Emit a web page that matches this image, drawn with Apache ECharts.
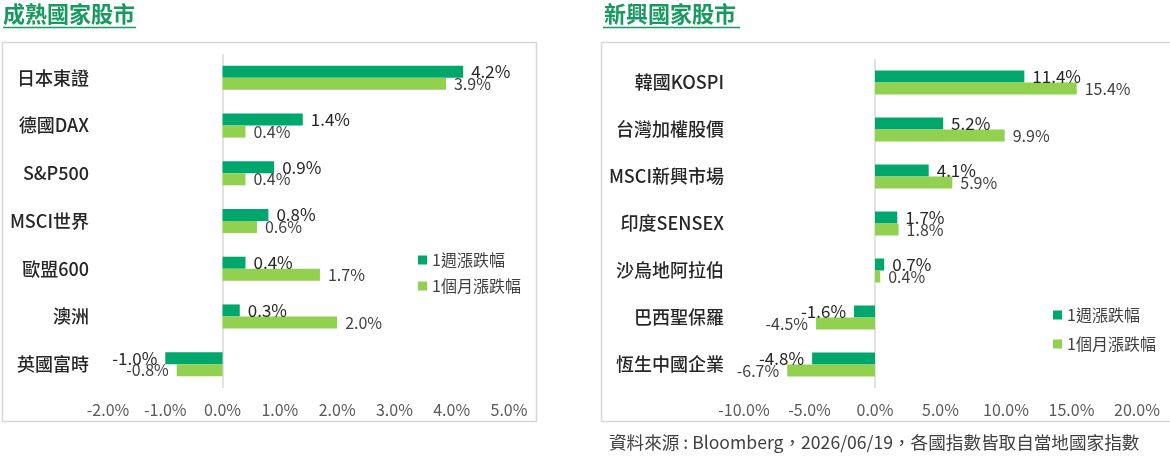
<!DOCTYPE html>
<html>
<head>
<meta charset="utf-8">
<script src="https://cdn.jsdelivr.net/npm/echarts@6/dist/echarts.min.js"></script>
<style>
html,body{margin:0;padding:0;background:#fff;}
#main{width:1170px;height:457px;}
</style>
</head>
<body>
<div id="main"></div>
<script>
// ---- data ----
const devCategories = ['日本東證','德國DAX','S&P500','MSCI世界','歐盟600','澳洲','英國富時'];
const devWeek  = [4.2, 1.4, 0.9, 0.8, 0.4, 0.3, -1.0];
const devMonth = [3.9, 0.4, 0.4, 0.6, 1.7, 2.0, -0.8];

const emCategories = ['韓國KOSPI','台灣加權股價','MSCI新興市場','印度SENSEX','沙烏地阿拉伯','巴西聖保羅','恆生中國企業'];
const emWeek  = [11.4, 5.2, 4.1, 1.7, 0.7, -1.6, -4.8];
const emMonth = [15.4, 9.9, 5.9, 1.8, 0.4, -4.5, -6.7];

const seriesNames = ['1週漲跌幅','1個月漲跌幅'];
const devTitle = '成熟國家股市';
const emTitle = '新興國家股市';
const sourceText = '資料來源 : Bloomberg，2026/06/19，各國指數皆取自當地國家指數';

// ---- styles ----
const FONT = '"Noto Sans CJK TC", "Noto Sans", sans-serif';
const DARK = '#00A76D';
const LIGHT = '#92D050';
const TITLE_GREEN = '#17995F';

function pct(v){ return v.toFixed(1) + '%'; }

function withLabels(values){
  return values.map(v => ({
    value: v,
    label: { position: v < 0 ? 'left' : 'right' }
  }));
}

function barSeries(name, values, color, idx, labelSize, labelColor, withZero){
  const s = {
    name: name,
    type: 'bar',
    xAxisIndex: idx,
    yAxisIndex: idx,
    barWidth: 12,
    barGap: '0%',
    itemStyle: { color: color },
    data: withLabels(values),
    label: {
      show: true,
      distance: 8,
      fontFamily: FONT,
      fontSize: labelSize,
      color: labelColor,
      formatter: p => pct(p.value)
    },
    z: 3
  };
  if (withZero) {
    s.markLine = {
      silent: true,
      symbol: ['none','none'],
      label: { show: false },
      lineStyle: { color: '#d9d9d9', type: 'solid', width: 1.5 },
      data: [{ xAxis: 0 }],
      z: 1
    };
  }
  return s;
}

function valueAxis(idx, min, max, interval){
  return {
    type: 'value',
    gridIndex: idx,
    min: min, max: max, interval: interval,
    splitLine: { show: false },
    axisLine: { show: false },
    axisTick: { show: false },
    axisLabel: {
      fontFamily: FONT, fontSize: 16, color: '#595959', margin: 14,
      formatter: v => pct(v)
    }
  };
}

function catAxis(idx, cats, margin){
  return {
    type: 'category',
    gridIndex: idx,
    inverse: true,
    data: cats,
    axisLine: { show: false, onZero: false },
    axisTick: { show: false },
    axisLabel: {
      fontFamily: FONT, fontSize: 18, color: '#262626', margin: margin, fontWeight: 500
    }
  };
}

const chart = echarts.init(document.getElementById('main'), null, { renderer: 'canvas' });

const option = {
  backgroundColor: '#ffffff',
  animation: false,
  textStyle: { fontFamily: FONT },
  grid: [
    { left: 108, top: 54, width: 401, height: 334 },
    { left: 744, top: 59, width: 393, height: 329 }
  ],
  xAxis: [ valueAxis(0, -2, 5, 1), valueAxis(1, -10, 20, 5) ],
  yAxis: [ catAxis(0, devCategories, 19), catAxis(1, emCategories, 20) ],
  legend: [
    {
      orient: 'vertical', left: 413, top: 247,
      itemWidth: 9, itemHeight: 9, itemGap: 10,
      icon: 'rect',
      data: seriesNames,
      textStyle: { fontFamily: FONT, fontSize: 16, color: '#404040' }
    },
    {
      orient: 'vertical', left: 1048, top: 302,
      itemWidth: 9, itemHeight: 9, itemGap: 13,
      icon: 'rect',
      data: seriesNames,
      textStyle: { fontFamily: FONT, fontSize: 16, color: '#404040' }
    }
  ],
  graphic: [
    { type: 'rect', shape: { x: 2.5, y: 42.5, width: 534, height: 379 },
      style: { fill: 'none', stroke: '#d9d9d9', lineWidth: 1.5 }, z: -1 },
    { type: 'rect', shape: { x: 601.5, y: 42.5, width: 580, height: 379 },
      style: { fill: 'none', stroke: '#d9d9d9', lineWidth: 1.5 }, z: -1 },
    { type: 'text', left: 3, top: 3,
      style: { text: devTitle, fontFamily: FONT, fontSize: 22, fontWeight: 'bold', fill: TITLE_GREEN } },
    { type: 'line', shape: { x1: 3, y1: 27.5, x2: 136, y2: 27.5 },
      style: { stroke: TITLE_GREEN, lineWidth: 1.5 } },
    { type: 'text', left: 604, top: 3,
      style: { text: emTitle, fontFamily: FONT, fontSize: 22, fontWeight: 'bold', fill: TITLE_GREEN } },
    { type: 'line', shape: { x1: 603, y1: 27.5, x2: 740, y2: 27.5 },
      style: { stroke: TITLE_GREEN, lineWidth: 1.5 } },
    { type: 'text', left: 609, top: 434,
      style: { text: sourceText, fontFamily: FONT, fontSize: 17.6, fill: '#404040' } }
  ],
  series: [
    barSeries(seriesNames[0], devWeek, DARK, 0, 17, '#262626', true),
    barSeries(seriesNames[1], devMonth, LIGHT, 0, 16, '#404040', false),
    barSeries(seriesNames[0], emWeek, DARK, 1, 17, '#262626', true),
    barSeries(seriesNames[1], emMonth, LIGHT, 1, 16, '#404040', false)
  ]
};
chart.setOption(option);
</script>
</body>
</html>
